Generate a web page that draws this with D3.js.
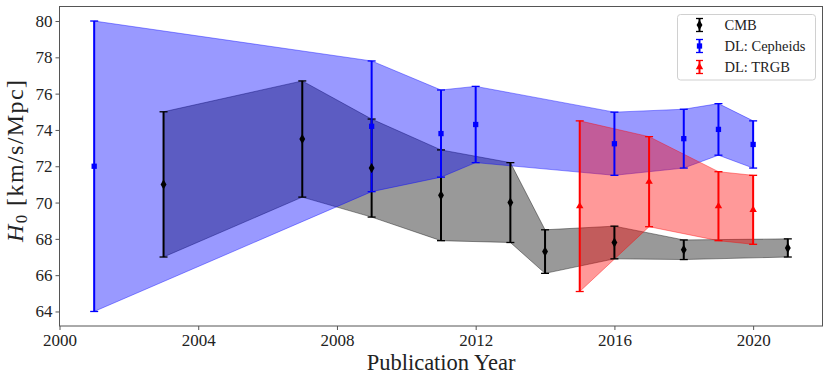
<!DOCTYPE html>
<html>
<head>
<meta charset="utf-8">
<script src="https://cdn.jsdelivr.net/npm/d3@7"></script>
<style>
  body { margin: 0; background: #fff; }
  svg text { font-family: "Liberation Serif", "Times New Roman", serif; fill: #222; }
</style>
</head>
<body>
<div id="chart"></div>
<script>
var cmbYears = [2003, 2007, 2009, 2011, 2013, 2014, 2016, 2018, 2021];
var cmbH0    = [71.0, 73.5, 71.9, 70.4, 70.0, 67.3, 67.8, 67.4, 67.5];
var cmbErr   = [4.0, 3.2, 2.7, 2.5, 2.2, 1.2, 0.9, 0.54, 0.5];

var cephYears = [2001, 2009, 2011, 2012, 2016, 2018, 2019, 2020];
var cephH0    = [72.0, 74.2, 73.8, 74.3, 73.24, 73.52, 74.03, 73.2];
var cephErr   = [8.0, 3.6, 2.4, 2.1, 1.74, 1.62, 1.42, 1.3];

var trgbYears = [2015, 2017, 2019, 2020];
var trgbH0    = [69.8, 71.15, 69.8, 69.6];
var trgbErr   = [4.7, 2.48, 1.9, 1.9];

var xTicks = [2000, 2004, 2008, 2012, 2016, 2020];
var yTicks = [64, 66, 68, 70, 72, 74, 76, 78, 80];

(function() {
    var W = 830, H = 382;
    var margin = {top: 6.5, right: 7.5, bottom: 56, left: 59.5},
        width = W - margin.left - margin.right,
        height = H - margin.top - margin.bottom;

    var svg = d3.select("#chart")
        .append("svg")
        .attr("width", W)
        .attr("height", H)
        .append("g")
        .attr("transform", "translate(" + margin.left + "," + margin.top + ")");

    var x = d3.scaleLinear().domain([2000, 2022]).range([0, width]);
    var y = d3.scaleLinear().domain([63.2, 80.8]).range([height, 0]);

    function zip(years, vals, errs) {
        return years.map(function(d, i) { return {year: d, v: vals[i], e: errs[i]}; });
    }

    var groups = [
        {name: "CMB", color: "#000000", marker: "diamond", data: zip(cmbYears, cmbH0, cmbErr)},
        {name: "DL: Cepheids", color: "#0000ff", marker: "square", data: zip(cephYears, cephH0, cephErr)},
        {name: "DL: TRGB", color: "#ff0000", marker: "triangle", data: zip(trgbYears, trgbH0, trgbErr)}
    ];

    // shaded bands between the error limits
    var area = d3.area()
        .x(function(d) { return x(d.year); })
        .y0(function(d) { return y(d.v - d.e); })
        .y1(function(d) { return y(d.v + d.e); });

    groups.forEach(function(g) {
        svg.append("path")
            .datum(g.data)
            .attr("d", area)
            .attr("fill", g.color)
            .attr("fill-opacity", 0.4)
            .attr("stroke", g.color)
            .attr("stroke-opacity", 0.4)
            .attr("stroke-width", 1);
    });

    // error bars (all bars first, markers on top like matplotlib)
    var cap = 4;
    groups.forEach(function(g) {
        var eb = svg.append("g");
        eb.selectAll(".bar").data(g.data).enter().append("line")
            .attr("x1", function(d) { return x(d.year); })
            .attr("x2", function(d) { return x(d.year); })
            .attr("y1", function(d) { return y(d.v - d.e); })
            .attr("y2", function(d) { return y(d.v + d.e); })
            .attr("stroke", g.color).attr("stroke-width", 2);
        [-1, 1].forEach(function(s) {
            eb.selectAll(".cap" + s).data(g.data).enter().append("line")
                .attr("x1", function(d) { return x(d.year) - cap; })
                .attr("x2", function(d) { return x(d.year) + cap; })
                .attr("y1", function(d) { return y(d.v + s * d.e); })
                .attr("y2", function(d) { return y(d.v + s * d.e); })
                .attr("stroke", g.color).attr("stroke-width", 1.3);
        });
    });

    var symbols = {
        diamond: d3.symbol().type(d3.symbolDiamond).size(30),
        square: d3.symbol().type(d3.symbolSquare).size(28),
        triangle: d3.symbol().type(d3.symbolTriangle).size(24)
    };

    groups.forEach(function(g) {
        svg.append("g").selectAll("path").data(g.data).enter().append("path")
            .attr("d", symbols[g.marker])
            .attr("transform", function(d) { return "translate(" + x(d.year) + "," + y(d.v) + ")"; })
            .attr("fill", g.color);
    });

    // axes
    var xAxis = svg.append("g")
        .attr("transform", "translate(0," + height + ")")
        .call(d3.axisBottom(x).tickValues(xTicks).tickFormat(d3.format("d")).tickSizeInner(4).tickSizeOuter(0).tickPadding(4));
    var yAxis = svg.append("g")
        .call(d3.axisLeft(y).tickValues(yTicks).tickSizeInner(4).tickSizeOuter(0).tickPadding(3));

    [xAxis, yAxis].forEach(function(a) {
        a.attr("font-family", "Liberation Serif").attr("font-size", 17);
        a.select(".domain").remove();
        a.selectAll(".tick line").attr("stroke", "#555");
        a.selectAll(".tick text").attr("fill", "#222");
    });

    // frame
    svg.append("rect")
        .attr("width", width).attr("height", height)
        .attr("fill", "none").attr("stroke", "#555").attr("stroke-width", 1);

    // axis labels
    svg.append("text")
        .attr("text-anchor", "middle")
        .attr("x", width / 2)
        .attr("y", height + 44)
        .attr("font-size", 22.5)
        .text("Publication Year");

    var yl = svg.append("text")
        .attr("text-anchor", "middle")
        .attr("transform", "translate(" + (-37) + "," + (height / 2 - 6) + ") rotate(-90)")
        .attr("font-size", 24)
        .attr("letter-spacing", 1.4);
    yl.append("tspan").attr("font-style", "italic").text("H");
    yl.append("tspan").attr("font-size", 17).attr("dy", 4).text("0");
    yl.append("tspan").attr("dy", -4).text(" [km/s/Mpc]");

    // legend
    var lg = svg.append("g").attr("transform", "translate(" + (677.5 - margin.left) + "," + (14.5 - margin.top) + ")");
    lg.append("rect")
        .attr("width", 138).attr("height", 65.5).attr("rx", 3)
        .attr("fill", "#fff").attr("fill-opacity", 0.8)
        .attr("stroke", "#d0d0d0").attr("stroke-width", 1);

    groups.forEach(function(g, i) {
        var ly = 10.5 + i * 21;
        var it = lg.append("g").attr("transform", "translate(22," + ly + ")");
        it.append("line").attr("y1", -6.5).attr("y2", 6.5).attr("stroke", g.color).attr("stroke-width", 2);
        [-6.5, 6.5].forEach(function(c) {
            it.append("line").attr("x1", -3.5).attr("x2", 3.5).attr("y1", c).attr("y2", c)
                .attr("stroke", g.color).attr("stroke-width", 1.3);
        });
        it.append("path").attr("d", symbols[g.marker]).attr("fill", g.color);
        lg.append("text")
            .attr("x", 47).attr("y", ly + 5)
            .attr("font-size", 14.5)
            .text(g.name);
    });
})();
</script>
</body>
</html>
